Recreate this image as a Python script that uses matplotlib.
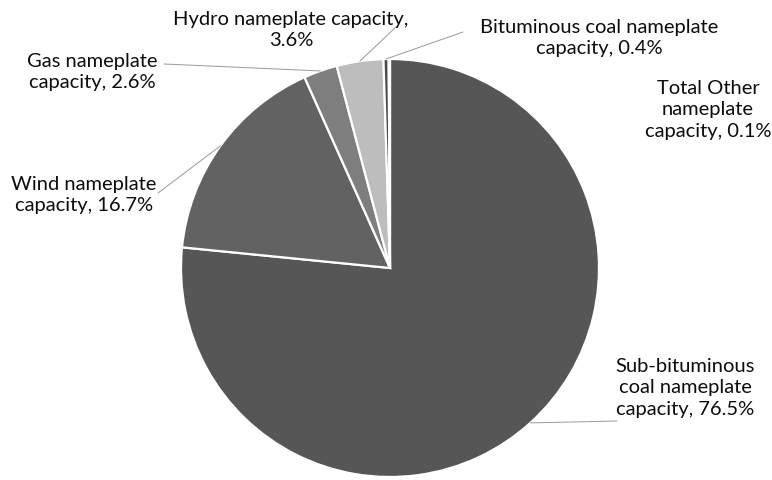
import numpy as np
import matplotlib
matplotlib.use("Agg")
import matplotlib.pyplot as plt

plt.rcParams['font.family'] = ['Lato', 'DejaVu Sans']

fuels = ['Sub-bituminous coal', 'Wind', 'Gas', 'Hydro', 'Bituminous coal', 'Total Other']
shares = [76.5, 16.7, 2.6, 3.6, 0.4, 0.1]
colors = ['#565656', '#626262', '#7e7e7e', '#bdbdbd', '#4a4a4a', '#e0e0e0']

W, H = 772, 480
fig = plt.figure(figsize=(W / 100, H / 100), dpi=100)

# pie centre / radius in pixels (top-left origin)
cx, cy, r = 390, 268, 209
ax = fig.add_axes([(cx - r) / W, (H - cy - r) / H, 2 * r / W, 2 * r / H])
wedges, _ = ax.pie(shares, colors=colors, startangle=90, counterclock=False,
                   wedgeprops=dict(edgecolor='white', linewidth=1.6))
ax.set_xlim(-1, 1)
ax.set_ylim(-1, 1)
ax.set_aspect('equal')
ax.axis('off')


def fpos(x, y):
    return (x / W, 1 - y / H)


labels = [
    'Sub-bituminous\ncoal nameplate\ncapacity, 76.5%',
    'Wind nameplate\ncapacity, 16.7%',
    'Gas nameplate\ncapacity, 2.6%',
    'Hydro nameplate capacity,\n3.6%',
    'Bituminous coal nameplate\ncapacity, 0.4%',
    'Total Other\nnameplate\ncapacity, 0.1%',
]
# text centre (pixels), leader end (pixels) or None
layout = [
    ((685, 388), (617, 421)),
    ((84, 195), (158, 193)),
    ((92, 72), (164, 64)),
    ((291, 30), (397, 26)),
    ((599, 38), (463, 32)),
    ((708, 110), None),
]

for w, lab, (tp, lp) in zip(wedges, labels, layout):
    ang = np.deg2rad((w.theta1 + w.theta2) / 2)
    xy = (np.cos(ang), np.sin(ang))
    fig.text(*fpos(*tp), lab, ha='center', va='center', fontsize=14.5,
             color='#0d0d0d', linespacing=1.35, multialignment='center')
    if lp is not None:
        ax.annotate('', xy=xy, xycoords='data',
                    xytext=fpos(*lp), textcoords='figure fraction',
                    arrowprops=dict(arrowstyle='-', color='#999999', lw=0.7,
                                    shrinkA=0, shrinkB=0),
                    annotation_clip=False)

fig.savefig('out.png', dpi=100, facecolor='white')
